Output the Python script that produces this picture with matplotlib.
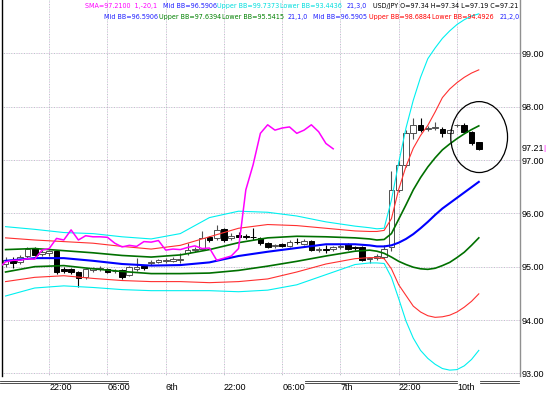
import numpy as np
import matplotlib
matplotlib.use("Agg")
import matplotlib.pyplot as plt
from matplotlib.patches import Ellipse
from matplotlib.lines import Line2D
from matplotlib import font_manager
from matplotlib.font_manager import FontProperties

# ---------------- data (hourly USD/JPY bars) ----------------
bar_open = [95.05, 95.10, 95.08, 95.20, 95.35, 95.24, 95.26, 95.30, 94.96, 94.95,
            94.90, 94.80, 94.93, 94.96, 94.95, 94.92, 94.94, 94.84, 94.95, 95.01,
            95.06, 95.09, 95.10, 95.10, 95.12, 95.25, 95.31, 95.34, 95.55, 95.53,
            95.71, 95.53, 95.60, 95.58, 95.56, 95.53, 95.44, 95.38, 95.42, 95.38,
            95.47, 95.42, 95.48, 95.31, 95.33, 95.34, 95.36, 95.42, 95.36, 95.37,
            95.14, 95.16, 95.18, 95.36, 96.44, 96.91, 97.50, 97.66, 97.58, 97.60,
            97.59, 97.50, 97.65, 97.66, 97.53, 97.34]
bar_high = [95.18, 95.19, 95.22, 95.37, 95.37, 95.32, 95.32, 95.32, 95.00, 94.97,
            94.92, 94.98, 95.00, 95.02, 94.98, 94.95, 94.96, 95.02, 95.16, 95.04,
            95.12, 95.15, 95.16, 95.18, 95.25, 95.44, 95.37, 95.66, 95.58, 95.78,
            95.72, 95.63, 95.65, 95.62, 95.72, 95.56, 95.46, 95.43, 95.44, 95.50,
            95.53, 95.52, 95.50, 95.36, 95.40, 95.38, 95.42, 95.44, 95.38, 95.39,
            95.19, 95.24, 95.40, 96.80, 97.00, 97.56, 97.78, 97.78, 97.64, 97.72,
            97.62, 97.58, 97.68, 97.70, 97.55, 97.34]
bar_low = [95.00, 94.97, 95.05, 95.16, 95.20, 95.20, 95.20, 94.86, 94.88, 94.86,
           94.62, 94.76, 94.90, 94.92, 94.88, 94.88, 94.76, 94.82, 94.92, 94.94,
           95.03, 95.06, 95.06, 95.08, 95.06, 95.22, 95.28, 95.32, 95.46, 95.50,
           95.47, 95.50, 95.53, 95.52, 95.50, 95.40, 95.35, 95.35, 95.36, 95.36,
           95.43, 95.40, 95.29, 95.28, 95.26, 95.30, 95.33, 95.31, 95.32, 95.10,
           95.06, 95.13, 95.15, 95.30, 96.40, 96.86, 97.40, 97.52, 97.55, 97.57,
           97.44, 97.48, 97.62, 97.50, 97.29, 97.19]
bar_close = [95.12, 95.06, 95.18, 95.34, 95.22, 95.28, 95.30, 94.90, 94.92, 94.90,
             94.78, 94.96, 94.97, 94.98, 94.90, 94.92, 94.80, 95.00, 95.00, 94.97,
             95.09, 95.12, 95.12, 95.15, 95.14, 95.31, 95.34, 95.53, 95.50, 95.69,
             95.50, 95.58, 95.56, 95.56, 95.55, 95.44, 95.37, 95.40, 95.38, 95.47,
             95.46, 95.49, 95.31, 95.33, 95.32, 95.36, 95.39, 95.34, 95.35, 95.12,
             95.16, 95.20, 95.34, 96.44, 96.91, 97.50, 97.66, 97.56, 97.60, 97.62,
             97.50, 97.56, 97.66, 97.53, 97.31, 97.21]

# Bollinger band values read at these bars
band_bars = [0, 4, 8, 12, 16, 20, 24, 28, 32, 36, 40, 44, 48, 50, 51, 52,
             53, 54, 55, 56, 57, 58, 59, 60, 61, 62, 63, 64, 65]
mid_bb = [95.11, 95.16, 95.16, 95.11, 95.05, 95.02, 95.03, 95.08, 95.20, 95.28,
          95.35, 95.42, 95.42, 95.40, 95.38, 95.38, 95.40, 95.45, 95.52, 95.61,
          95.72, 95.84, 95.97, 96.09, 96.19, 96.29, 96.39, 96.49, 96.59]
upper_1 = [95.32, 95.34, 95.30, 95.26, 95.21, 95.18, 95.22, 95.32, 95.45, 95.54,
           95.57, 95.56, 95.54, 95.52, 95.50, 95.51, 95.62, 95.89, 96.16, 96.44,
           96.67, 96.87, 97.04, 97.19, 97.30, 97.40, 97.49, 97.57, 97.64]
lower_1 = [94.90, 95.00, 95.02, 94.96, 94.91, 94.87, 94.87, 94.88, 94.93, 95.01,
           95.10, 95.20, 95.29, 95.31, 95.29, 95.25, 95.18, 95.10, 95.04, 94.99,
           94.96, 94.95, 94.97, 95.02, 95.08, 95.17, 95.27, 95.40, 95.54]
upper_2 = [95.54, 95.50, 95.47, 95.44, 95.38, 95.33, 95.40, 95.56, 95.72, 95.79,
           95.77, 95.72, 95.67, 95.66, 95.66, 95.68, 95.90, 96.45, 96.88, 97.22,
           97.46, 97.65, 97.90, 98.17, 98.33, 98.45, 98.55, 98.63, 98.69]
lower_2 = [94.72, 94.80, 94.83, 94.78, 94.74, 94.72, 94.72, 94.70, 94.72, 94.77,
           94.90, 95.05, 95.15, 95.17, 95.17, 95.15, 94.96, 94.66, 94.46, 94.26,
           94.15, 94.08, 94.05, 94.06, 94.09, 94.15, 94.24, 94.35, 94.49]
upper_3 = [95.75, 95.70, 95.64, 95.62, 95.56, 95.52, 95.62, 95.92, 96.04, 96.02,
           95.95, 95.84, 95.76, 95.73, 95.71, 95.72, 96.25, 96.95, 97.60, 98.12,
           98.55, 98.90, 99.10, 99.28, 99.42, 99.54, 99.63, 99.70, 99.74]
lower_3 = [94.45, 94.60, 94.64, 94.61, 94.57, 94.55, 94.55, 94.55, 94.53, 94.56,
           94.66, 94.85, 95.04, 95.07, 95.07, 95.06, 94.80, 94.40, 93.98, 93.66,
           93.43, 93.28, 93.17, 93.09, 93.06, 93.07, 93.14, 93.26, 93.43]

sma_shift = -20
grid_bars = [6, 14, 22, 30, 38, 46, 54, 62]
time_labels = ["22:00", "06:00", "6th", "22:00", "06:00", "7th", "22:00", "10th"]
price_ticks = [93, 94, 95, 96, 97, 98, 99]

legend_row1 = [("SMA=97.2100  1,-20,1", "#ff00ff", 85),
               ("Mid BB=96.5906", "#2020ff", 163),
               ("Upper BB=99.7373", "#00dede", 217),
               ("Lower BB=93.4436", "#00dede", 280),
               ("21,3,0", "#2020ff", 347),
               ("USD/JPY O=97.34 H=97.34 L=97.19 C=97.21", "black", 373)]
legend_row2 = [("Mid BB=96.5906", "#2020ff", 104),
               ("Upper BB=97.6394", "#008000", 159),
               ("Lower BB=95.5415", "#008000", 222),
               ("21,1,0", "#2020ff", 288),
               ("Mid BB=96.5905", "#2020ff", 313),
               ("Upper BB=98.6884", "#ff0000", 369),
               ("Lower BB=94.4926", "#ff0000", 432),
               ("21,2,0", "#2020ff", 500)]


def find_narrow():
    cands = []
    for f in font_manager.fontManager.ttflist:
        nm = f.name.lower()
        st = str(f.stretch).lower()
        if f.style != "normal" or str(f.weight) not in ("400", "normal"):
            continue
        if "narrow" in nm or "condensed" in nm or st in ("condensed", "semi-condensed"):
            score = 0 if "liberation sans narrow" in nm else (1 if "sans" in nm else 2)
            cands.append((score, f.fname))
    if cands:
        cands.sort()
        return FontProperties(fname=cands[0][1])
    return FontProperties(family="Liberation Sans")


def pick_font(*names):
    for n in names:
        try:
            font_manager.findfont(FontProperties(family=n), fallback_to_default=False)
            return n
        except Exception:
            pass
    return "DejaVu Sans"


NARROW_FP = find_narrow()
REG = pick_font("Liberation Sans", "DejaVu Sans")

W, H = 551, 394
fig = plt.figure(figsize=(W / 100, H / 100), dpi=100)
fig.patch.set_facecolor("white")
ax = fig.add_axes([2 / W, 18 / H, 518 / W, 376 / H])
ax.set_xlim(-0.49, 70.66)
ax.set_ylim(92.95, 100.0)
ax.set_facecolor("white")

# grid (two-tone dotted like MT4)
for v in price_ticks:
    ax.axhline(v, color="#d8a8d8", lw=0.6, ls=(0, (1, 3)), zorder=1)
    ax.axhline(v, color="#98b8b0", lw=0.6, ls=(2, (1, 3)), zorder=1)
for g in grid_bars:
    ax.axvline(g, color="#d8a8d8", lw=0.6, ls=(0, (1, 3)), zorder=1)
    ax.axvline(g, color="#98b8b0", lw=0.6, ls=(2, (1, 3)), zorder=1)

# candles
x = np.arange(len(bar_close))
o = np.array(bar_open)
c = np.array(bar_close)
hi = np.array(bar_high)
lo = np.array(bar_low)
up = c >= o
ax.vlines(x[up], lo[up], hi[up], color="#505050", lw=0.8, zorder=2)
ax.vlines(x[~up], lo[~up], hi[~up], color="black", lw=0.8, zorder=2)
ax.bar(x[up], (c - o)[up], bottom=o[up], width=0.78, facecolor="white",
       edgecolor="#505050", linewidth=0.7, zorder=2.5)
ax.bar(x[~up], (c - o)[~up], bottom=o[~up], width=0.78, facecolor="black",
       edgecolor="black", linewidth=0.7, zorder=2.5)

# Bollinger bands
ax.plot(band_bars, upper_3, color="#00f0f0", lw=0.8, zorder=3)
ax.plot(band_bars, lower_3, color="#00f0f0", lw=0.8, zorder=3)
ax.plot(band_bars, upper_2, color="#ff3030", lw=0.8, zorder=3)
ax.plot(band_bars, lower_2, color="#ff3030", lw=0.8, zorder=3)
ax.plot(band_bars, upper_1, color="#007000", lw=1.2, zorder=3)
ax.plot(band_bars, lower_1, color="#007000", lw=1.2, zorder=3)
ax.plot(band_bars, mid_bb, color="#0000ff", lw=1.5, zorder=3.2)

# SMA(1) shifted -20 bars
ax.plot(x + sma_shift, bar_close, color="#ff00ff", lw=1.1, zorder=4)

# highlight ellipse around last bars
ax.add_patch(Ellipse((x[-1] + 0.05, 97.43), 7.8, 1.33, fill=False,
                     edgecolor="black", lw=0.9, zorder=5))

# axes / ticks
for s in ["top", "bottom"]:
    ax.spines[s].set_visible(False)
ax.spines["left"].set_color("black")
ax.spines["left"].set_linewidth(1.0)
ax.spines["right"].set_color("#909090")
ax.spines["right"].set_linewidth(1.0)
ax.yaxis.tick_right()
ax.set_yticks(price_ticks)
ax.set_yticklabels([f"{v:.2f}" for v in price_ticks], fontfamily=REG, fontsize=6.5)
ax.tick_params(axis="y", length=0, pad=1.5, colors="black")
ax.set_xticks(grid_bars)
ax.set_xticklabels(time_labels, fontfamily=REG, fontsize=6.5, ha="left")
ax.tick_params(axis="x", length=0, pad=5)

# last price label
ax.text(1.003, bar_close[-1], f"{bar_close[-1]:.2f}", transform=ax.get_yaxis_transform(),
        fontfamily=REG, fontsize=6.5, va="center", ha="left", color="black")
ax.text(1.044, bar_close[-1], "|", transform=ax.get_yaxis_transform(),
        fontfamily=REG, fontsize=6, va="center", ha="left", color="#ff00ff")

# indicator legend rows: size fitted so the quote line spans its width (146 px)
fig.canvas.draw()
renderer = fig.canvas.get_renderer()
probe_fp = NARROW_FP.copy()
probe_fp.set_size(10)
probe = fig.text(0, 0, legend_row1[-1][0], fontproperties=probe_fp)
pw = probe.get_window_extent(renderer).width
probe.remove()
legend_size = min(7.0, 10 * 146.0 / pw)
leg_fp = NARROW_FP.copy()
leg_fp.set_size(legend_size)

for txt, col, px in legend_row1:
    fig.text(px / W, 1 - 6 / H, txt, color=col, fontproperties=leg_fp,
             va="center", ha="left")
for txt, col, px in legend_row2:
    fig.text(px / W, 1 - 17 / H, txt, color=col, fontproperties=leg_fp,
             va="center", ha="left")

# double separator lines in time scale area
for x0, x1 in [(0, 128), (305, 457), (480, 519)]:
    for yy in (380.5, 383):
        fig.add_artist(Line2D([x0 / W, x1 / W], [1 - yy / H, 1 - yy / H],
                              color="#303030", lw=0.6))

fig.savefig("out.png", dpi=100, facecolor="white")
